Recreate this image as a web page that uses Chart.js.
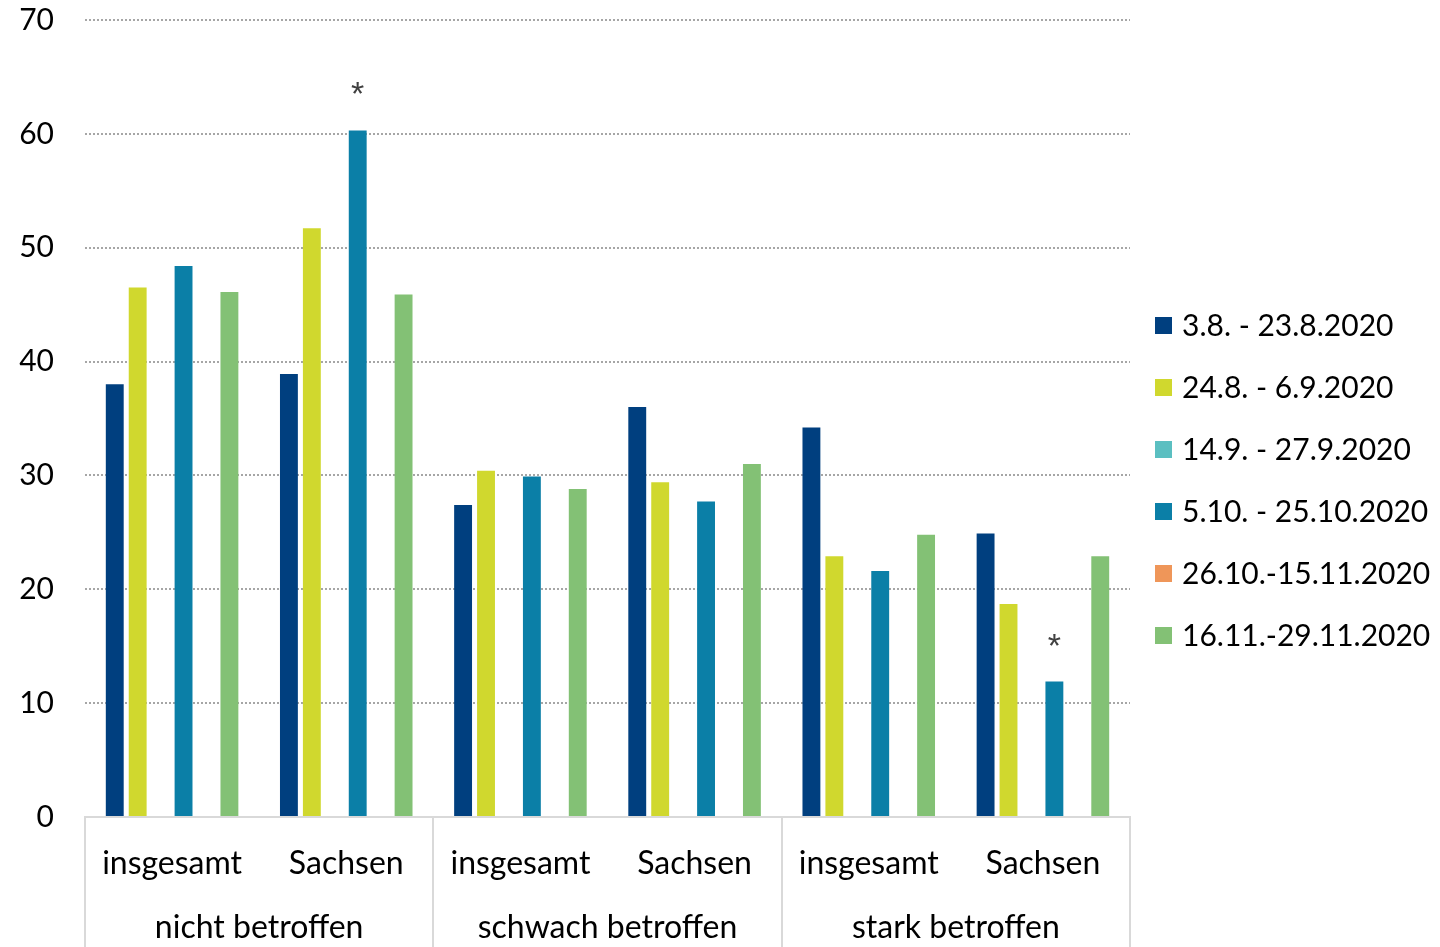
<!DOCTYPE html>
<html>
<head>
<meta charset="utf-8">
<script src="https://cdn.jsdelivr.net/npm/chart.js@4/dist/chart.umd.min.js"></script>
<style>
  html, body { margin: 0; padding: 0; background: #fff; }
  #wrap { width: 1440px; height: 947px; position: relative; }
</style>
</head>
<body>
<div id="wrap"><canvas id="chart"></canvas></div>
<script>
// data
var categories = ["insgesamt", "Sachsen", "insgesamt", "Sachsen", "insgesamt", "Sachsen"];
var groups = ["nicht betroffen", "schwach betroffen", "stark betroffen"];
var seriesLabels = ["3.8. - 23.8.2020", "24.8. - 6.9.2020", "14.9. - 27.9.2020",
                    "5.10. - 25.10.2020", "26.10.-15.11.2020", "16.11.-29.11.2020"];
var seriesColors = ["#003f7f", "#d0d82e", "#5bbfc1", "#0b7fa7", "#ef9659", "#83c175"];
var s1 = [38.0, 38.9, 27.4, 36.0, 34.2, 24.9];
var s2 = [46.5, 51.7, 30.4, 29.4, 22.9, 18.7];
var s3 = [null, null, null, null, null, null];
var s4 = [48.4, 60.3, 29.9, 27.7, 21.6, 11.9];
var s5 = [null, null, null, null, null, null];
var s6 = [46.1, 45.9, 28.8, 31.0, 24.8, 22.9];
var yTicks = [0, 10, 20, 30, 40, 50, 60, 70];
var starred = [1, 5]; // categories with * over series 4

var FONT = "Lato";
var allSeries = [s1, s2, s3, s4, s5, s6];

var datasets = allSeries.map(function (d, i) {
  return {
    label: seriesLabels[i],
    data: d,
    backgroundColor: seriesColors[i],
    borderWidth: 0,
    categoryPercentage: 0.79,
    barPercentage: 0.78
  };
});

function noOverflow(s) {
  s.paddingLeft = 0; s.paddingRight = 0; s.paddingTop = 0; s.paddingBottom = 0;
}

var extras = {
  id: "extras",
  afterDraw: function (chart) {
    var ctx = chart.ctx;
    var area = chart.chartArea;
    var xs = chart.scales.x;
    var H = chart.height;
    ctx.save();

    // group separators below the axis
    var bounds = [area.left];
    for (var g = 1; g < groups.length; g++) {
      var a = xs.getPixelForValue(g * 2 - 1), b = xs.getPixelForValue(g * 2);
      bounds.push((a + b) / 2);
    }
    bounds.push(area.right);
    ctx.strokeStyle = "#d9d9d9";
    ctx.lineWidth = 2;
    bounds.forEach(function (x) {
      ctx.beginPath();
      ctx.moveTo(Math.round(x), area.bottom);
      ctx.lineTo(Math.round(x), H);
      ctx.stroke();
    });

    // group labels
    ctx.fillStyle = "#000";
    ctx.font = "32px " + FONT;
    ctx.textAlign = "center";
    ctx.textBaseline = "middle";
    for (var k = 0; k < groups.length; k++) {
      ctx.fillText(groups[k], (bounds[k] + bounds[k + 1]) / 2, area.bottom + 111);
    }

    // asterisks
    var meta = chart.getDatasetMeta(3);
    ctx.fillStyle = "#404040";
    ctx.font = "34px 'Liberation Sans'";
    ctx.textBaseline = "alphabetic";
    starred.forEach(function (c) {
      var bar = meta.data[c];
      ctx.fillText("*", bar.x, bar.y - 25);
    });

    // legend
    ctx.textAlign = "left";
    ctx.textBaseline = "middle";
    ctx.font = "30px " + FONT;
    for (var i = 0; i < seriesLabels.length; i++) {
      var cy = 326 + i * 62;
      ctx.fillStyle = seriesColors[i];
      ctx.fillRect(1155, cy - 9, 17, 17);
      ctx.fillStyle = "#000";
      ctx.fillText(seriesLabels[i], 1182, cy);
    }
    ctx.restore();
  }
};

new Chart(document.getElementById("chart"), {
  type: "bar",
  data: { labels: categories, datasets: datasets },
  options: {
    responsive: true,
    maintainAspectRatio: false,
    animation: false,
    layout: { padding: { left: 19, right: 310, top: 20, bottom: 40 } },
    plugins: { legend: { display: false }, tooltip: { enabled: false } },
    scales: {
      x: {
        grid: { display: false },
        border: { display: true, color: "#d9d9d9", width: 2 },
        ticks: { color: "#000", font: { family: FONT, size: 32 }, padding: 19,
                 maxRotation: 0, autoSkip: false },
        afterFit: function (s) { s.height = 90; noOverflow(s); }
      },
      y: {
        min: 0,
        max: 70,
        afterBuildTicks: function (s) { s.ticks = yTicks.map(function (v) { return { value: v }; }); },
        grid: {
          drawTicks: false,
          lineWidth: 2,
          color: function (c) { return c.tick && c.tick.value === 0 ? "rgba(0,0,0,0)" : "#a6a6a6"; }
        },
        border: { display: false, dash: [2, 2] },
        ticks: { color: "#000", font: { family: FONT, size: 30 }, padding: 31 },
        afterFit: function (s) { s.width = 66; noOverflow(s); }
      }
    }
  },
  plugins: [extras]
});
</script>
</body>
</html>
